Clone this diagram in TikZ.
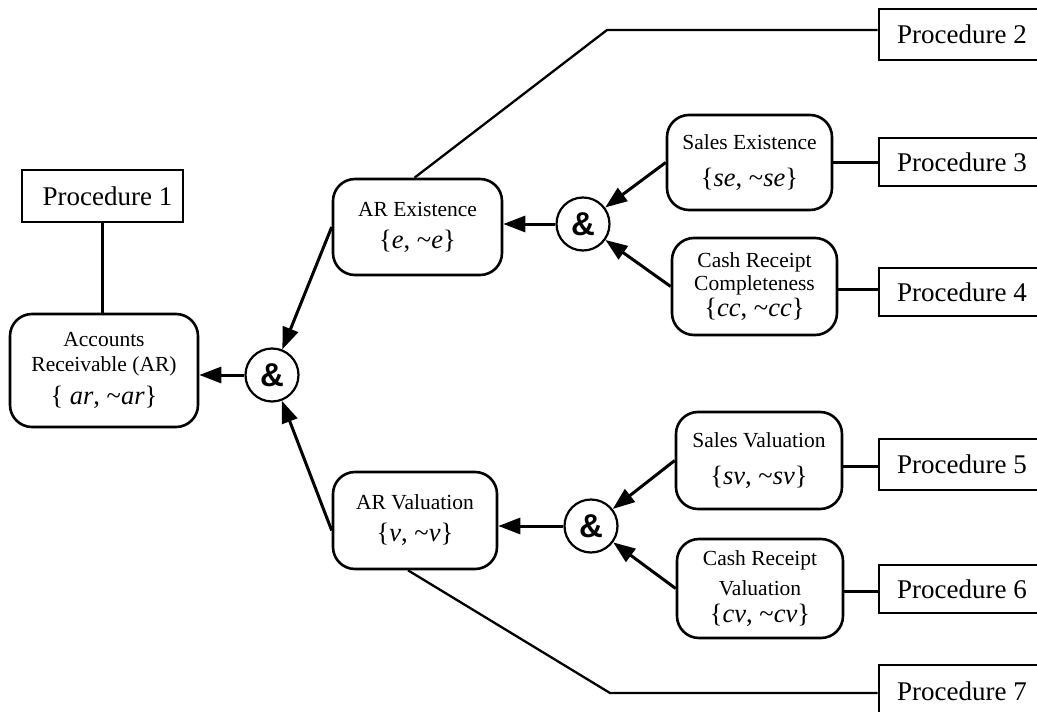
\documentclass[tikz,border=0pt]{standalone}
\usepackage{fontspec}
\setmainfont{Liberation Serif}
\newfontfamily\ampfont{Liberation Sans}
\usetikzlibrary{arrows.meta}
\newcommand\bracefont{\fontsize{26.5}{30}\selectfont}
\newcommand\pairset[1]{\{\textit{#1}, \textasciitilde\textit{#1}\}}
\begin{document}
\begin{tikzpicture}[x=1pt,y=-1pt,
  proc/.style={draw, line width=2.6pt, minimum width=166pt, minimum height=50pt, inner sep=0pt, font=\fontsize{27}{30}\selectfont},
  claim/.style={draw, line width=2.6pt, rounded corners=22pt, inner sep=0pt, align=center, font=\fontsize{21.5}{25}\selectfont},
  andnode/.style={draw, circle, line width=2.2pt, minimum size=53pt, inner sep=0pt, font=\ampfont\bfseries\fontsize{33}{33}\selectfont},
  link/.style={line width=2.3pt},
  arr/.style={line width=3pt, -{Triangle[length=22pt,width=16pt]}}]
\useasboundingbox (0,0) rectangle (1037,712);
\clip (0,0) rectangle (1037,712);

% left part
\node[proc, minimum width=161pt, minimum height=52pt] (p1) at (102.5,196) {\hspace*{10pt}Procedure 1};
\node[claim, minimum width=188pt, minimum height=113pt] (ar) at (104,370.5) {Accounts\\Receivable (AR)\\[8pt]{\bracefont\{ \textit{ar}, \textasciitilde\textit{ar}\}}};
\node[andnode] (and1) at (272,375) {\&};

% middle
\node[claim, minimum width=169pt, minimum height=96pt] (are) at (417.5,227) {AR Existence\\[7pt]{\bracefont\pairset{e}}};
\node[andnode] (and2) at (583,224) {\&};
\node[claim, minimum width=164pt, minimum height=97pt] (arv) at (415,520.5) {AR Valuation\\[7pt]{\bracefont\pairset{v}}};
\node[andnode] (and3) at (591,526) {\&};

% right claims
\node[claim, minimum width=165pt, minimum height=95pt] (se) at (749.5,162.5) {Sales Existence\\[12pt]{\bracefont\pairset{se}}};
\node[claim, minimum width=165pt, minimum height=97pt] (crc) at (754.5,286.5) {Cash Receipt\\[-2pt]Completeness\\[1pt]{\bracefont\pairset{cc}}};
\node[claim, minimum width=166pt, minimum height=97pt] (sv) at (759,460.5) {Sales Valuation\\[12pt]{\bracefont\pairset{sv}}};
\node[claim, minimum width=166pt, minimum height=99pt] (crv) at (760,588.5) {Cash Receipt\\[5pt]Valuation\\[2pt]{\bracefont\pairset{cv}}};

% procedures
\node[proc, minimum height=51pt] (p2) at (962,34.5) {Procedure 2};
\node[proc, minimum height=48pt] (p3) at (962,162) {Procedure 3};
\node[proc, minimum height=48pt] (p4) at (962,292) {Procedure 4};
\node[proc, minimum height=51pt] (p5) at (962,464.5) {Procedure 5};
\node[proc, minimum height=48pt] (p6) at (962,589) {Procedure 6};
\node[proc, minimum height=52pt] (p7) at (962,691) {Procedure 7};

\coordinate (j2) at (607,30);
\coordinate (j7) at (610,693);

% plain links
\draw[link] (p1.south) -- (p1.south |- ar.north);
\draw[link] ([xshift=-3pt]are.north) -- (j2) -- (j2 -| p2.west);
\draw[link] ([xshift=-7pt]arv.south) -- (j7) -- (j7 -| p7.west);
\draw[link] (se.east) -- (se.east -| p3.west);
\draw[link] ([yshift=-3pt]crc.east) -- ([yshift=-3pt]crc.east -| p4.west);
\draw[link] ([yshift=-6pt]sv.east) -- ([yshift=-6pt]sv.east -| p5.west);
\draw[link] ([yshift=-3pt]crv.east) -- ([yshift=-3pt]crv.east -| p6.west);

% arrows
\draw[arr] (and1.west) -- (and1.west -| ar.east);
\draw[arr] (are.west) -- (and1);
\draw[arr] ([yshift=-10pt]arv.west) -- (and1);
\draw[arr] (and2.west) -- (and2.west -| are.east);
\draw[arr] (se.west) -- (and2);
\draw[arr] (crc.west) -- (and2);
\draw[arr] (and3.west) -- (and3.west -| arv.east);
\draw[arr] (sv.west) -- (and3);
\draw[arr] (crv.west) -- (and3);
\end{tikzpicture}
\end{document}
